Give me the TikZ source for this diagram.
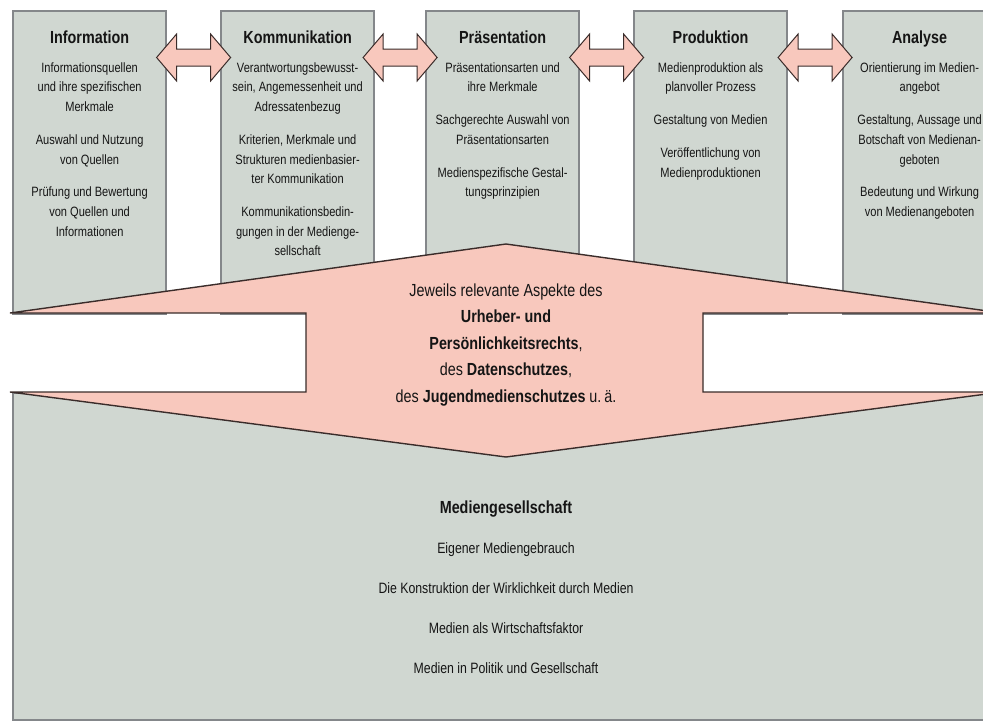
\documentclass[tikz,border=0pt]{standalone}
\usepackage{fontspec}
\setmainfont{Liberation Sans}[FakeStretch=0.82]
\usepackage{tikz}
\usetikzlibrary{calc}
\usetikzlibrary{positioning}

\definecolor{feldgrau}{HTML}{D0D7D1}
\definecolor{feldrand}{HTML}{84878A}
\definecolor{rosa}{HTML}{F8C8BD}
\definecolor{pfeilrand}{HTML}{3A2C2A}
\definecolor{schrift}{HTML}{151515}

\begin{document}
\begin{tikzpicture}[x=1pt, y=-1pt]

        % Styles for the boxes, their texts and the arrows
        \tikzset{
            feld/.style={draw=feldrand, line width=2.2pt, fill=feldgrau,
                anchor=north west, minimum width=153pt,
                minimum height=303pt, inner sep=0pt},
            titel/.style={font=\fontsize{17.5}{20}\selectfont\bfseries,
                text=schrift, inner sep=0pt,
                text height=12.6pt, text depth=3.5pt},
            inhalt/.style={font=\fontsize{13.5}{19.7}\selectfont,
                text=schrift, align=center, inner sep=0pt},
            pfeil/.style={draw=pfeilrand, line width=1pt, fill=rosa},
            doppelpfeil/.pic={
                \draw[pfeil] (-37,0) -- (-17,-23.5) -- (-17,-8.5)
                -- (17,-8.5) -- (17,-23.5) -- (37,0) -- (17,23.5)
                -- (17,8.5) -- (-17,8.5) -- (-17,23.5) -- cycle;
            }
        }

        \useasboundingbox (0,0) rectangle (983,721);
        \clip (0,0) rectangle (983,721);

        % The five boxes at the top
        \node[feld] (info) at (12,10) {};
        \node[feld] (komm) at (220,10) {};
        \node[feld] (praes) at (425,10) {};
        \node[feld] (prod) at (633,10) {};
        \node[feld] (ana) at (842,10) {};

        % The society box at the bottom
        \node[feld, minimum width=990pt, minimum height=327pt]
        (ges) at (12,392) {};

        \node[titel] (infoT) at ([yshift=-29pt]info.north) {Information};
        \node[inhalt, below=15pt of infoT] (infoI)
        {Informationsquellen\\und ihre spezifischen\\Merkmale\\[13pt]
         Auswahl und Nutzung\\von Quellen\\[13pt]
         Prüfung und Bewertung\\von Quellen und\\Informationen};

        \node[titel] (kommT) at ([yshift=-29pt]komm.north) {Kommunikation};
        \node[inhalt, below=15pt of kommT] (kommI)
        {Verantwortungsbewusst-\\sein, Angemessenheit und\\Adressatenbezug\\[13pt]
         Kriterien, Merkmale und\\Strukturen medienbasier-\\ter Kommunikation\\[13pt]
         Kommunikationsbedin-\\gungen in der Medienge-\\sellschaft};

        \node[titel] (praesT) at ([yshift=-29pt]praes.north) {Präsentation};
        \node[inhalt, below=15pt of praesT] (praesI)
        {Präsentationsarten und\\ihre Merkmale\\[13pt]
         Sachgerechte Auswahl von\\Präsentationsarten\\[13pt]
         Medienspezifische Gestal-\\tungsprinzipien};

        \node[titel] (prodT) at ([yshift=-29pt]prod.north) {Produktion};
        \node[inhalt, below=15pt of prodT] (prodI)
        {Medienproduktion als\\planvoller Prozess\\[13pt]
         Gestaltung von Medien\\[13pt]
         Veröffentlichung von\\Medienproduktionen};

        \node[titel] (anaT) at ([yshift=-29pt]ana.north) {Analyse};
        \node[inhalt, below=15pt of anaT] (anaI)
        {Orientierung im Medien-\\angebot\\[13pt]
         Gestaltung, Aussage und\\Botschaft von Medienan-\\geboten\\[13pt]
         Bedeutung und Wirkung\\von Medienangeboten};

        % Double arrows between neighbouring boxes
        \pic at ($(info.north east)!0.5!(komm.north west)+(0,47.5)$) {doppelpfeil};
        \pic at ($(komm.north east)!0.5!(praes.north west)+(0,47.5)$) {doppelpfeil};
        \pic at ($(praes.north east)!0.5!(prod.north west)+(0,47.5)$) {doppelpfeil};
        \pic at ($(prod.north east)!0.5!(ana.north west)+(0,47.5)$) {doppelpfeil};

        % Big arrow in the middle
        \draw[pfeil, line width=1.4pt] (506,244) -- (1002,313) -- (703,313)
        -- (703,392) -- (1002,392) -- (506,457) -- (10,392) -- (306,392)
        -- (306,313) -- (10,313) -- cycle;

        \node[font=\fontsize{17.5}{26.5}\selectfont, text=schrift,
            align=center, inner sep=0pt] (recht) at (506,345)
        {Jeweils relevante Aspekte des\\
         \textbf{Urheber- und}\\
         \textbf{Persönlichkeitsrechts},\\
         des \textbf{Datenschutzes},\\
         des \textbf{Jugendmedienschutzes} u.\,ä.};

        \node[font=\fontsize{15}{40}\selectfont, text=schrift,
            align=center, inner sep=0pt] (gesT) at (506,587)
        {{\fontsize{17.5}{40}\selectfont\bfseries Mediengesellschaft}\\
         Eigener Mediengebrauch\\
         Die Konstruktion der Wirklichkeit durch Medien\\
         Medien als Wirtschaftsfaktor\\
         Medien in Politik und Gesellschaft};

\end{tikzpicture}
\end{document}
